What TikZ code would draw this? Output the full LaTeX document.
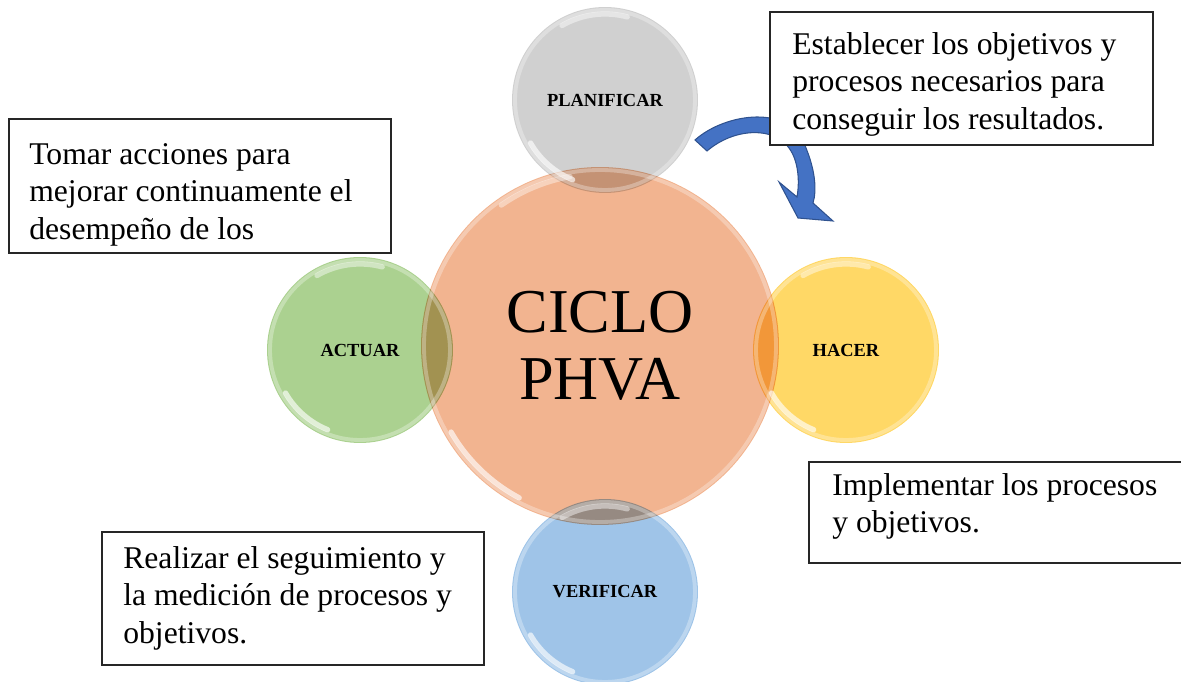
\documentclass[tikz,border=0pt]{standalone}
\usepackage{fontspec}
\setmainfont{Liberation Serif}
\usetikzlibrary{calc}
\definecolor{salmon}{RGB}{242,180,144}
\definecolor{plangray}{RGB}{200,200,200}
\definecolor{hacyellow}{RGB}{255,209,75}
\definecolor{verblue}{RGB}{142,186,228}
\definecolor{actgreen}{RGB}{156,201,124}
\definecolor{arrowblue}{RGB}{68,114,196}
\definecolor{arrowedge}{RGB}{47,82,143}
\begin{document}
\begin{tikzpicture}[x=0.02cm,y=-0.02cm,
  bubble/.style={circle, inner sep=0pt, minimum size=3.72cm, fill opacity=0.85, text opacity=1, font=\bfseries\fontsize{10.5}{12}\selectfont},
  bigbubble/.style={circle, inner sep=0pt, minimum size=7.16cm, fill=salmon, align=center, font=\fontsize{35.5}{38}\selectfont},
  infobox/.style={draw=black!85, line width=0.8pt, fill=white, rectangle, inner sep=0pt},
  infotext/.style={anchor=north west, inner sep=0pt, align=left, font=\fontsize{18}{21.5}\selectfont},
  ring/.style={white, line width=2.2pt, opacity=0.3},
  gloss/.style={white, line width=3pt, opacity=0.65, line cap=round}]
\useasboundingbox (0,0) rectangle (1181,682);

% central circle
\node[bigbubble] (ctr) at (600,346) {CICLO\\PHVA};

% surrounding bubbles (multiply blend for overlap look)
\begin{scope}[blend mode=multiply]
\node[bubble, fill=plangray] (plan) at (605,100) {\raisebox{-3pt}{PLANIFICAR}};
\node[bubble, fill=hacyellow] (hac) at (846,350) {HACER};
\node[bubble, fill=verblue] (ver) at (605,592) {VERIFICAR};
\node[bubble, fill=actgreen] (act) at (360,350) {ACTUAR};
\end{scope}

% glossy rims
\draw[ring] (ctr.center) circle[radius=176];
\foreach \c in {plan,hac,ver,act}{
  \draw[ring] (\c.center) circle[radius=90];
  \draw[gloss] ($(\c.center)+(150:86)$) arc[start angle=150, end angle=112, radius=86];
  \draw[gloss, opacity=0.45] ($(\c.center)+(-120:86)$) arc[start angle=-120, end angle=-75, radius=86];
}
\draw[gloss] ($(ctr.center)+(150:172)$) arc[start angle=150, end angle=118, radius=172];
\draw[gloss, opacity=0.4] ($(ctr.center)+(-125:172)$) arc[start angle=-125, end angle=-100, radius=172];

% curved block arrow
\coordinate (tailA) at (695,140);
\coordinate (tailB) at (707,151);
\coordinate (headL) at (779,182);
\coordinate (headT) at (798,218);
\coordinate (headR) at (833,221);
\filldraw[fill=arrowblue, draw=arrowedge, line width=0.6pt]
  (tailA) .. controls (725,113) and (792,103) .. (806,148)
  .. controls (815,170) and (817,190) .. (813,203)
  -- (headR) -- (headT) -- (headL) -- (797,197)
  .. controls (800,180) and (798,160) .. (789,148)
  .. controls (775,127) and (735,127) .. (tailB) -- cycle;

% text boxes
\node[infobox, minimum width=7.66cm, minimum height=2.66cm] (b1) at (961.5,78.5) {};
\node[infotext] (t1) at (792,27.5) {\rule{0pt}{15pt}Establecer los objetivos y\\procesos necesarios para\\conseguir los resultados.};

\node[infobox, minimum width=7.64cm, minimum height=2.68cm] (b2) at (200,186) {};
\node[infotext] (t2) at (29,137.5) {\rule{0pt}{15pt}Tomar acciones para\\mejorar continuamente el\\desempeño de los};

\node[infobox, minimum width=7.6cm, minimum height=2.02cm] (b3) at (999,512.5) {};
\node[infotext] (t3) at (832,468.5) {\rule{0pt}{15pt}Implementar los procesos\\y objetivos.};

\node[infobox, minimum width=7.64cm, minimum height=2.66cm] (b4) at (293,598.5) {};
\node[infotext] (t4) at (123,541.5) {\rule{0pt}{15pt}Realizar el seguimiento y\\la medición de procesos y\\objetivos.};
\end{tikzpicture}
\end{document}
